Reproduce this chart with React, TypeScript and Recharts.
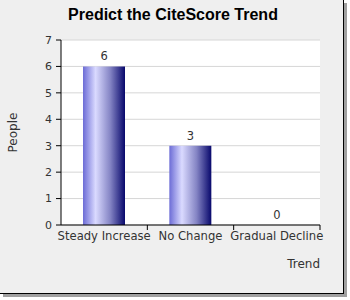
import { ComposedChart, Bar, Line, XAxis, YAxis, CartesianGrid, LabelList, Label } from "recharts";

const categories = ["Steady Increase", "No Change", "Gradual Decline"];
const people = [6, 3, 0];
const yTicks = [0, 1, 2, 3, 4, 5, 6, 7];

const data = categories.map((name, i) => ({ name, people: people[i] }));

const font = "'DejaVu Sans', sans-serif";
const labelGap = 7;

// category label plus a small tick mark at the right edge of each category band
function CategoryTick(props: any) {
  const { x, y, payload } = props;
  const edge = x + (payload.offset || 0);
  const axisY = y - labelGap;
  return (
    <g>
      <line x1={edge} x2={edge} y1={axisY} y2={axisY + 5} stroke="#000" />
      <text x={x} y={y} dy="0.71em" textAnchor="middle" fontSize={11.6} fill="#333" fontFamily={font}>
        {payload.value}
      </text>
    </g>
  );
}

export default function App() {
  return (
    <div style={{ position: "fixed", left: 0, top: 0, width: 350, height: 300, background: "#fff" }}>
      <div
        style={{
          position: "absolute",
          left: 0,
          top: 0,
          width: 343,
          height: 293,
          background: "#efefef",
          borderRight: "1px solid #000",
          borderBottom: "1px solid #000",
          boxShadow: "3px 3px 0 #a0a0a0",
        }}
      />
      <div
        style={{
          position: "absolute",
          left: 0,
          width: 346,
          top: 6,
          textAlign: "center",
          fontFamily: "'Liberation Sans', Arial, sans-serif",
          fontWeight: "bold",
          fontSize: 16,
          color: "#000",
        }}
      >
        Predict the CiteScore Trend
      </div>
      <div style={{ position: "absolute", left: 0, top: 0 }}>
        <ComposedChart width={350} height={300} data={data} margin={{ top: 40, right: 30, left: 0, bottom: 45 }}>
          <defs>
            <linearGradient id="barGrad" x1="0" y1="0" x2="1" y2="0">
              <stop offset="0" stopColor="#6c6cd6" />
              <stop offset="0.3" stopColor="#dadaff" />
              <stop offset="0.65" stopColor="#8484c4" />
              <stop offset="1" stopColor="#08086c" />
            </linearGradient>
          </defs>
          <CartesianGrid vertical={false} stroke="#d6d6d6" fill="#fff" />
          <YAxis
            width={61}
            domain={[0, 7]}
            ticks={yTicks}
            interval={0}
            axisLine={{ stroke: "#000" }}
            tickLine={{ stroke: "#000" }}
            tickSize={5}
            tickMargin={4}
            tick={{ fontSize: 11, fill: "#333", fontFamily: font }}
          >
            <Label
              value="People"
              angle={-90}
              position="insideLeft"
              offset={13}
              style={{ fontSize: 12, fill: "#333", fontFamily: font, textAnchor: "middle" }}
            />
          </YAxis>
          <XAxis
            dataKey="name"
            height={30}
            axisLine={{ stroke: "#000" }}
            tickLine={false}
            tickSize={0}
            interval={0}
            tickMargin={labelGap}
            tick={<CategoryTick />}
          />
          <Bar dataKey="people" fill="url(#barGrad)" barSize={42} isAnimationActive={false} />
          <Line dataKey="people" stroke="none" dot={false} activeDot={false} isAnimationActive={false}>
            <LabelList dataKey="people" position="top" offset={6} style={{ fontSize: 11.5, fill: "#333", fontFamily: font }} />
          </Line>
        </ComposedChart>
      </div>
      <div
        style={{
          position: "absolute",
          right: 30,
          top: 257,
          fontFamily: font,
          fontSize: 12,
          color: "#333",
        }}
      >
        Trend
      </div>
    </div>
  );
}
